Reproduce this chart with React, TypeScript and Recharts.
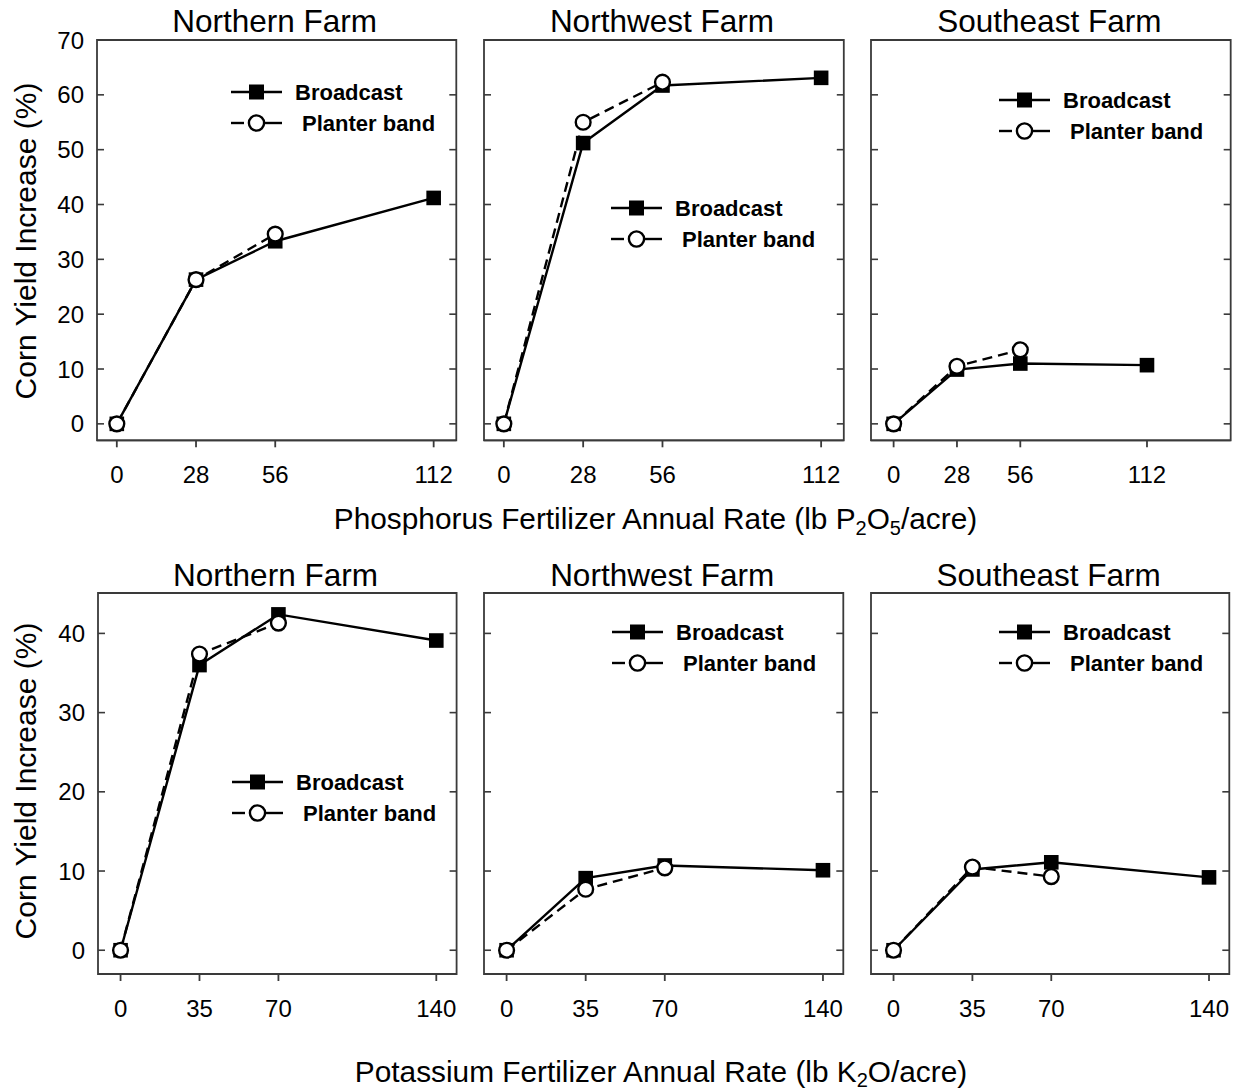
import React from 'react';
import { LineChart, Line, XAxis, YAxis, Legend, ReferenceArea } from 'recharts';

// ---------- data ----------
const phosphorusRates = [0, 28, 56, 112];
const potassiumRates = [0, 35, 70, 140];
const phosphorusTicks = [0, 28, 56, 112];
const potassiumTicks = [0, 35, 70, 140];
const topYTicks = [0, 10, 20, 30, 40, 50, 60, 70];
const bottomYTicks = [0, 10, 20, 30, 40];
const farmNames = ['Northern Farm', 'Northwest Farm', 'Southeast Farm'];
const seriesNames = ['Broadcast', 'Planter band'];

const pNorthernBroadcast = [0, 26.3, 33.3, 41.2];
const pNorthernBand = [0, 26.3, 34.6];
const pNorthwestBroadcast = [0, 51.2, 61.7, 63.1];
const pNorthwestBand = [0, 55.0, 62.3];
const pSoutheastBroadcast = [0, 9.9, 11.0, 10.7];
const pSoutheastBand = [0, 10.5, 13.5];

const kNorthernBroadcast = [0, 36.0, 42.4, 39.1];
const kNorthernBand = [0, 37.4, 41.3];
const kNorthwestBroadcast = [0, 9.1, 10.7, 10.1];
const kNorthwestBand = [0, 7.7, 10.4];
const kSoutheastBroadcast = [0, 10.2, 11.1, 9.2];
const kSoutheastBand = [0, 10.5, 9.3];

const toPoints = (xs: number[], ys: number[]) => ys.map((y, i) => ({ x: xs[i], y }));

const panels = [
  { title: farmNames[0], rates: phosphorusRates, xTicks: phosphorusTicks, yTicks: topYTicks, b: pNorthernBroadcast, p: pNorthernBand, xDomain: [-7, 120], yDomain: [-3, 70], showY: true },
  { title: farmNames[1], rates: phosphorusRates, xTicks: phosphorusTicks, yTicks: topYTicks, b: pNorthwestBroadcast, p: pNorthwestBand, xDomain: [-7, 120], yDomain: [-3, 70], showY: false },
  { title: farmNames[2], rates: phosphorusRates, xTicks: phosphorusTicks, yTicks: topYTicks, b: pSoutheastBroadcast, p: pSoutheastBand, xDomain: [-10, 149], yDomain: [-3, 70], showY: false },
  { title: farmNames[0], rates: potassiumRates, xTicks: potassiumTicks, yTicks: bottomYTicks, b: kNorthernBroadcast, p: kNorthernBand, xDomain: [-10, 149], yDomain: [-3, 45.1], showY: true },
  { title: farmNames[1], rates: potassiumRates, xTicks: potassiumTicks, yTicks: bottomYTicks, b: kNorthwestBroadcast, p: kNorthwestBand, xDomain: [-10, 149], yDomain: [-3, 45.1], showY: false },
  { title: farmNames[2], rates: potassiumRates, xTicks: potassiumTicks, yTicks: bottomYTicks, b: kSoutheastBroadcast, p: kSoutheastBand, xDomain: [-10, 149], yDomain: [-3, 45.1], showY: false },
];

// ---------- layout / style ----------
const layouts = [
  { plotLeft: 96.5, plotTop: 39.7, plotW: 359.3, plotH: 400.3, legendX: 230.7, legendY: 92 },
  { plotLeft: 483.5, plotTop: 39.7, plotW: 359.8, plotH: 400.3, legendX: 610.7, legendY: 208 },
  { plotLeft: 871, plotTop: 39.7, plotW: 359.7, plotH: 400.3, legendX: 999, legendY: 100 },
  { plotLeft: 97.7, plotTop: 592.7, plotW: 358.6, plotH: 381, legendX: 232, legendY: 782.3 },
  { plotLeft: 484, plotTop: 592.7, plotW: 359.3, plotH: 381, legendX: 611.7, legendY: 632.3 },
  { plotLeft: 871, plotTop: 592.7, plotW: 358.3, plotH: 381, legendX: 999, legendY: 632.3 },
];

const FONT = '"Liberation Sans", Arial, Helvetica, sans-serif';
const FRAME = '#3a3a3a';
const LW = 2.4;

const SquareDot = (props: any) => {
  const { cx, cy, index } = props;
  if (cx == null || cy == null) return <g key={index} />;
  return <rect key={index} x={cx - 7.3} y={cy - 7.3} width={14.6} height={14.6} fill="#000" />;
};
const CircleDot = (props: any) => {
  const { cx, cy, index } = props;
  if (cx == null || cy == null) return <g key={index} />;
  return <circle key={index} cx={cx} cy={cy} r={7.4} fill="#fff" stroke="#000" strokeWidth={LW} />;
};

const LegendBox = () => (
  <svg width={250} height={56} style={{ overflow: 'visible', display: 'block' }}>
    <line x1={0} y1={12} x2={51} y2={12} stroke="#000" strokeWidth={LW} />
    <rect x={25.5 - 7.5} y={12 - 7.5} width={15} height={15} fill="#000" />
    <text x={64} y={12 + 7.8} fontFamily={FONT} fontWeight="bold" fontSize={22} fill="#000">{seriesNames[0]}</text>
    <line x1={0} y1={43} x2={13} y2={43} stroke="#000" strokeWidth={LW} />
    <line x1={33} y1={43} x2={51} y2={43} stroke="#000" strokeWidth={LW} />
    <circle cx={25.5} cy={43} r={7.6} fill="#fff" stroke="#000" strokeWidth={LW} />
    <text x={71} y={43 + 7.8} fontFamily={FONT} fontWeight="bold" fontSize={22} fill="#000">{seriesNames[1]}</text>
  </svg>
);

const ML = 90, MT = 22, MR = 12, MB = 60;

const makeYTick = (show: boolean, plotW: number) => (props: any) => {
  const { y, payload, index } = props;
  return (
    <g key={index}>
      <line x1={ML} x2={ML + 7} y1={y} y2={y} stroke={FRAME} strokeWidth={1.6} />
      <line x1={ML + plotW} x2={ML + plotW - 7} y1={y} y2={y} stroke={FRAME} strokeWidth={1.6} />
      {show && (
        <text x={ML - 13} y={y} dy="0.36em" textAnchor="end" fontFamily={FONT} fontSize={24} fill="#000">
          {payload.value}
        </text>
      )}
    </g>
  );
};

function Panel({ idx }: { idx: number }) {
  const cfg = panels[idx];
  const L = layouts[idx];
  const chartLeft = L.plotLeft - ML;
  const chartTop = L.plotTop - MT;
  const width = ML + L.plotW + MR;
  const height = MT + L.plotH + MB;
  const bData = toPoints(cfg.rates, cfg.b);
  const pData = toPoints(cfg.rates, cfg.p);
  const tickStyle = { fill: '#000', fontSize: 24, fontFamily: FONT };
  return (
    <div style={{ position: 'absolute', left: chartLeft, top: chartTop }}>
      <LineChart width={width} height={height} margin={{ top: MT, right: MR, bottom: 0, left: 0 }}>
        <XAxis xAxisId="b" type="number" dataKey="x" domain={cfg.xDomain} ticks={cfg.xTicks} allowDataOverflow
          height={MB} tickSize={7} tickMargin={19} stroke={FRAME} strokeWidth={1.8} tick={tickStyle} interval={0} />
        <YAxis yAxisId="l" type="number" domain={cfg.yDomain} ticks={cfg.yTicks} allowDataOverflow width={ML}
          tickLine={false} axisLine={false} tick={makeYTick(cfg.showY, L.plotW)} interval={0} />
        <ReferenceArea xAxisId="b" yAxisId="l" x1={cfg.xDomain[0]} x2={cfg.xDomain[1]} y1={cfg.yDomain[0]} y2={cfg.yDomain[1]}
          fill="none" fillOpacity={0} stroke={FRAME} strokeWidth={1.8} ifOverflow="visible" />
        <Line xAxisId="b" yAxisId="l" data={bData} dataKey="y" name={seriesNames[0]} type="linear" stroke="#000" strokeWidth={LW}
          dot={(p: any) => <SquareDot key={`b${p.index}`} {...p} />} activeDot={false} isAnimationActive={false} legendType="square" />
        <Line xAxisId="b" yAxisId="l" data={pData} dataKey="y" name={seriesNames[1]} type="linear" stroke="#000" strokeWidth={LW}
          strokeDasharray="10 6" dot={(p: any) => <CircleDot key={`p${p.index}`} {...p} />} activeDot={false} isAnimationActive={false} legendType="circle" />
        <Legend layout="horizontal" verticalAlign="middle" align="center" content={() => <LegendBox />}
          wrapperStyle={{ left: L.legendX - chartLeft, top: L.legendY - 12 - chartTop, width: 250, height: 56 }} />
      </LineChart>
    </div>
  );
}

export default function App() {
  const titleY = [32.3, 586];
  return (
    <div style={{ position: 'absolute', left: 0, top: 0, width: 1241, height: 1090, background: '#fff', overflow: 'hidden' }}>
      <svg width={1241} height={1090} style={{ position: 'absolute', left: 0, top: 0 }}>
        {layouts.map((L, i) => (
          <text key={i} x={L.plotLeft + L.plotW / 2 - 1.5} y={titleY[i < 3 ? 0 : 1]} textAnchor="middle"
            fontFamily={FONT} fontSize={31.5} fill="#000">{panels[i].title}</text>
        ))}
        <text transform="translate(35.5,241) rotate(-90)" textAnchor="middle" fontFamily={FONT} fontSize={30} fill="#000">Corn Yield Increase (%)</text>
        <text transform="translate(35.5,781) rotate(-90)" textAnchor="middle" fontFamily={FONT} fontSize={30} fill="#000">Corn Yield Increase (%)</text>
        <text x={655.5} y={529} textAnchor="middle" fontFamily={FONT} fontSize={29.8} fill="#000">
          Phosphorus Fertilizer Annual Rate (lb P<tspan fontSize={20} dy={6}>2</tspan><tspan dy={-6}>O</tspan><tspan fontSize={20} dy={6}>5</tspan><tspan dy={-6}>/acre)</tspan>
        </text>
        <text x={661} y={1082} textAnchor="middle" fontFamily={FONT} fontSize={29.8} fill="#000">
          Potassium Fertilizer Annual Rate (lb K<tspan fontSize={20} dy={5}>2</tspan><tspan dy={-5}>O/acre)</tspan>
        </text>
      </svg>
      {panels.map((_, i) => <Panel key={i} idx={i} />)}
    </div>
  );
}
